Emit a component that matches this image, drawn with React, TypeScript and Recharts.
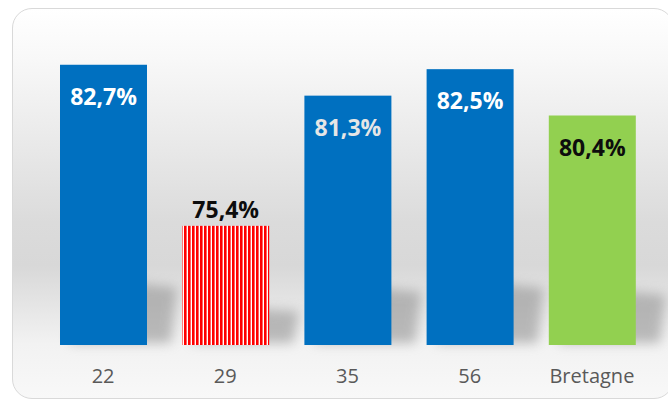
import { Bar, BarChart, Cell, LabelList, XAxis, YAxis } from 'recharts'

const categories = ['22', '29', '35', '56', 'Bretagne']
const values = [82.7, 75.4, 81.3, 82.5, 80.4]
const valueLabels = ['82,7%', '75,4%', '81,3%', '82,5%', '80,4%']
const barFills = ['#0070c0', 'url(#redStripes)', '#0070c0', '#0070c0', '#92d050']
const labelColors = ['#ffffff', '#0d0d0d', '#e6e6e6', '#ffffff', '#0d0d0d']
const labelInside = [true, false, true, true, true]

const data = categories.map((name, i) => ({ name, value: values[i], label: valueLabels[i] }))

const FONT = '"Open Sans", "DejaVu Sans", sans-serif'

// bar drawn on top of a blurred "perspective" shadow leaning to the right
function ShadowBar(props: any) {
  const { x, y, width, height, fill } = props
  const base = y + height
  const sh = 19 + 0.174 * height
  const pts = [
    [x + 10, base - 2],
    [x + width + 24, base - 2],
    [x + width + 30, base - sh * 0.85],
    [x + 18, base - sh],
  ]
    .map((p) => p.join(','))
    .join(' ')
  return (
    <g>
      <polygon points={pts} fill="#8c8c8c" opacity={0.55} filter="url(#shadowBlur)" />
      <rect x={x} y={y} width={width} height={height} fill={fill} />
    </g>
  )
}

function ValueLabel(props: any) {
  const { x, y, width, index, value } = props
  const inside = labelInside[index]
  return (
    <text
      x={x + width / 2}
      y={inside ? y + 31 : y - 17}
      textAnchor="middle"
      dominantBaseline="central"
      fill={labelColors[index]}
      fontFamily={FONT}
      fontWeight={700}
      fontSize={23}
    >
      {value}
    </text>
  )
}

export default function App() {
  return (
    <div style={{ position: 'relative', width: 668, height: 401, background: '#ffffff' }}>
      <style>{'body{margin:0}'}</style>
      <div
        style={{
          position: 'absolute',
          left: 12,
          top: 8,
          width: 660,
          height: 389,
          border: '1.5px solid #d9d9d9',
          borderRadius: 20,
          background:
            'linear-gradient(to bottom, #ffffff 0%, #f8f8f8 13%, #dbdbdb 55%, #d8d8d8 66%, #f2f2f2 86%, #f8f8f8 100%)',
        }}
      />
      <div style={{ position: 'absolute', left: 0, top: 0 }}>
        <BarChart
          width={668}
          height={401}
          data={data}
          margin={{ top: 14, right: 15, left: 42, bottom: 16 }}
        >
          <defs>
            <pattern id="redStripes" width="4" height="10" patternUnits="userSpaceOnUse">
              <rect width="4" height="10" fill="#ffffff" />
              <rect width="2.6" height="10" fill="#ff0000" />
            </pattern>
            <filter id="shadowBlur" x="-50%" y="-50%" width="200%" height="200%">
              <feGaussianBlur stdDeviation="6" />
            </filter>
          </defs>
          <XAxis
            dataKey="name"
            axisLine={false}
            tickLine={false}
            tickMargin={18}
            height={40}
            tick={{ fill: '#595959', fontSize: 20, fontFamily: FONT }}
          />
          <YAxis hide domain={[70, 85]} />
          <Bar dataKey="value" barSize={87} isAnimationActive={false} shape={<ShadowBar />}>
            {data.map((d, i) => (
              <Cell key={d.name} fill={barFills[i]} />
            ))}
            <LabelList dataKey="label" content={<ValueLabel />} />
          </Bar>
        </BarChart>
      </div>
    </div>
  )
}
